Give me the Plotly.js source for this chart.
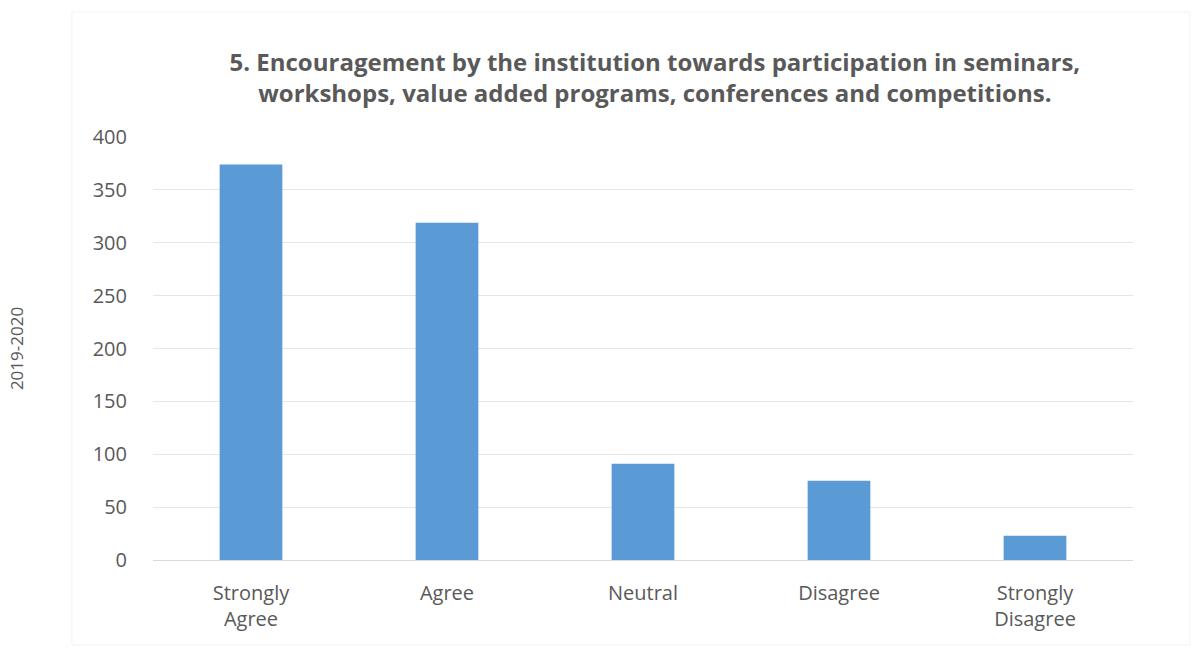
<!DOCTYPE html>
<html>
<head>
<meta charset="utf-8">
<script src="https://cdn.plot.ly/plotly-3.0.1.min.js"></script>
<style>html,body{margin:0;padding:0;background:#fff;}#chart{width:1195px;height:648px;}</style>
</head>
<body>
<div id="chart"></div>
<script>
const categories = ["Strongly<br>Agree", "Agree", "Neutral", "Disagree", "Strongly<br>Disagree"];
const responses = [374, 319, 91, 75, 23];
const yTickValues = [0, 50, 100, 150, 200, 250, 300, 350, 400];
const chartTitle = "5. Encouragement by the institution towards participation in seminars,<br>workshops, value added programs, conferences and competitions.";
const yTitle = "2019-2020";

const font = "'Open Sans', Carlito, sans-serif";

Plotly.newPlot("chart", [{
  type: "bar",
  x: categories,
  y: responses,
  marker: {color: "#5B9BD5"},
  hoverinfo: "x+y"
}], {
  width: 1195, height: 648,
  margin: {l: 153, r: 62, t: 137, b: 88},
  paper_bgcolor: "#fff",
  plot_bgcolor: "#fff",
  bargap: 0.68,
  showlegend: false,
  font: {family: font, color: "#595959", size: 19},
  title: {
    text: "<b>" + chartTitle + "</b>",
    font: {family: font, size: 24, color: "#595959"},
    x: 0.548, xanchor: "center",
    y: 0.89, yanchor: "middle"
  },
  xaxis: {
    showgrid: false, showline: true, linecolor: "#d9d9d9", linewidth: 1,
    ticks: "", tickfont: {size: 20, color: "#595959"},
    ticklabelstandoff: 15,
    fixedrange: true
  },
  yaxis: {
    range: [0, 400], tickvals: yTickValues,
    showgrid: true, gridcolor: "#e6e6e6", gridwidth: 1,
    zeroline: false, showline: false, ticks: "",
    ticklabelstandoff: 25,
    tickfont: {size: 20, color: "#595959"},
    title: {text: yTitle, font: {size: 17, color: "#595959"}, standoff: 64},
    automargin: false,
    fixedrange: true
  },
  shapes: [{
    type: "rect", xref: "paper", yref: "paper",
    x0: -0.0827, x1: 1.058, y0: -0.201, y1: 1.2955,
    line: {color: "#f3f3f3", width: 1}, fillcolor: "rgba(0,0,0,0)", layer: "below"
  }]
}, {displayModeBar: false, staticPlot: true});
</script>
</body>
</html>
